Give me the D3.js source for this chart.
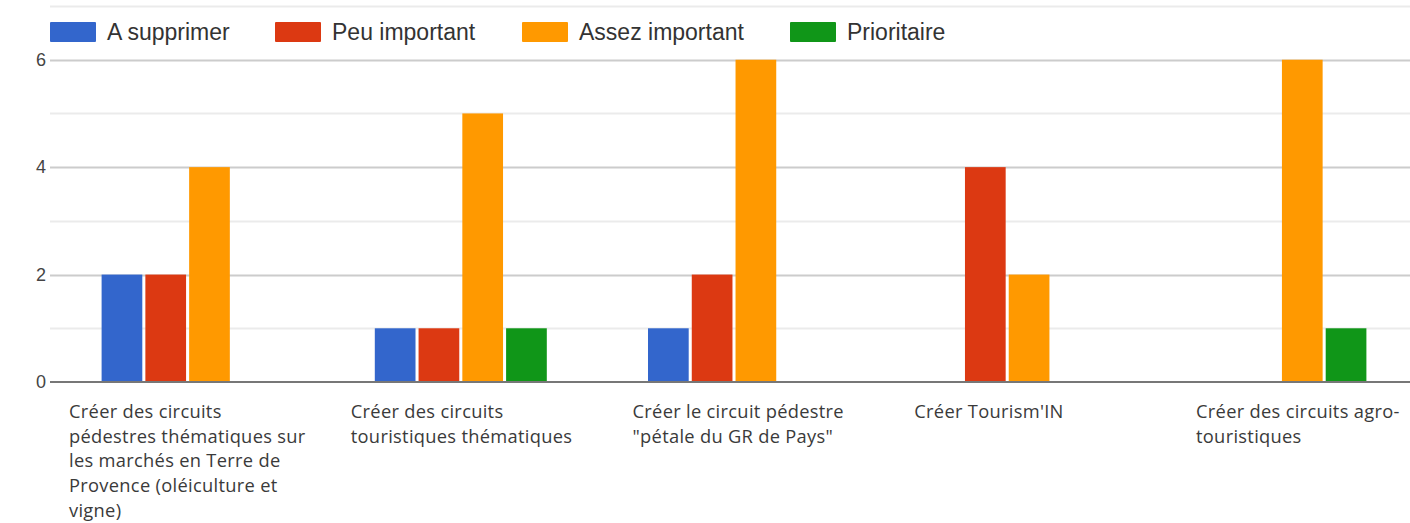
<!DOCTYPE html>
<html>
<head>
<meta charset="utf-8">
<script src="https://cdn.jsdelivr.net/npm/d3@7"></script>
<style>
  body { margin: 0; background: #fff; }
  svg { display: block; }
</style>
</head>
<body>
<div id="chart"></div>
<script>
// Data
var categories = ["c1", "c2", "c3", "c4", "c5"];
var categoryLabels = [
  ["Créer des circuits", "pédestres thématiques sur", "les marchés en Terre de", "Provence (oléiculture et", "vigne)"],
  ["Créer des circuits", "touristiques thématiques"],
  ["Créer le circuit pédestre", "\"pétale du GR de Pays\""],
  ["Créer Tourism'IN"],
  ["Créer des circuits agro-", "touristiques"]
];
var seriesNames = ["A supprimer", "Peu important", "Assez important", "Prioritaire"];
var seriesColors = ["#3366cc", "#dc3912", "#ff9900", "#109618"];
var aSupprimer = [2, 1, 1, 0, 0];
var peuImportant = [2, 1, 2, 4, 0];
var assezImportant = [4, 5, 6, 2, 6];
var prioritaire = [0, 1, 0, 0, 1];
var yTicks = [0, 2, 4, 6];

var seriesValues = [aSupprimer, peuImportant, assezImportant, prioritaire];

var svgWidth = 1410;
var svgHeight = 523;

var svg = d3.select("#chart")
  .append("svg")
  .attr("width", svgWidth)
  .attr("height", svgHeight);

var x = d3.scaleBand()
  .domain(categories)
  .range([51, 1417])
  .paddingInner(0)
  .paddingOuter(0);

var inner = d3.scaleBand()
  .domain(seriesNames)
  .range([0, 172])
  .paddingInner(0.07);

var y = d3.scaleLinear()
  .domain([0, 7])
  .range([382, 6]);

// labels under the groups sit on their own spacing in the picture
var labelX = d3.scalePoint()
  .domain(categories)
  .range([69, 1196]);

// gridlines
svg.append("g")
  .selectAll("line")
  .data(d3.range(1, 8))
  .enter()
  .append("line")
  .attr("x1", 50)
  .attr("x2", svgWidth)
  .attr("y1", d => Math.round(y(d)) + 0.5)
  .attr("y2", d => Math.round(y(d)) + 0.5)
  .attr("stroke", d => d % 2 === 0 ? "#cccccc" : "#ebebeb")
  .attr("stroke-width", 2);

// y labels
svg.append("g")
  .selectAll("text")
  .data(yTicks)
  .enter()
  .append("text")
  .attr("x", 46)
  .attr("y", d => y(d))
  .attr("dy", "0.35em")
  .attr("text-anchor", "end")
  .attr("font-family", "Liberation Sans, Arial, sans-serif")
  .attr("font-size", 18)
  .attr("fill", "#444")
  .text(d => d);

// bars
var rows = [];
categories.forEach(function(c, i) {
  seriesNames.forEach(function(s, j) {
    rows.push({cat: c, series: s, value: seriesValues[j][i], color: seriesColors[j]});
  });
});

var groupOffset = (x.bandwidth() - 172) / 2;

svg.append("g")
  .selectAll("rect")
  .data(rows.filter(d => d.value > 0))
  .enter()
  .append("rect")
  .attr("x", d => x(d.cat) + groupOffset + inner(d.series))
  .attr("y", d => y(d.value))
  .attr("width", inner.bandwidth())
  .attr("height", d => y(0) - y(d.value))
  .attr("fill", d => d.color);

// baseline
svg.append("line")
  .attr("x1", 50)
  .attr("x2", svgWidth)
  .attr("y1", y(0))
  .attr("y2", y(0))
  .attr("stroke", "#777")
  .attr("stroke-width", 2);

// category labels
var labels = svg.append("g")
  .selectAll("text")
  .data(categories)
  .enter()
  .append("text")
  .attr("x", d => labelX(d))
  .attr("y", 418)
  .attr("font-family", "Open Sans, sans-serif")
  .attr("font-size", 18.3)
  .attr("letter-spacing", "0.3px")
  .attr("fill", "#3a3a3a");

labels.each(function(d, i) {
  var t = d3.select(this);
  categoryLabels[i].forEach(function(line, k) {
    t.append("tspan")
      .attr("x", labelX(d))
      .attr("dy", k === 0 ? 0 : 24.7)
      .text(line);
  });
});

// legend
var legendX = [50, 275, 522, 790];
var legend = svg.append("g")
  .selectAll("g")
  .data(seriesNames)
  .enter()
  .append("g")
  .attr("transform", (d, i) => `translate(${legendX[i]}, 22)`);

legend.append("rect")
  .attr("width", 46)
  .attr("height", 20)
  .attr("rx", 1)
  .attr("fill", (d, i) => seriesColors[i]);

legend.append("text")
  .attr("x", 57)
  .attr("y", 10)
  .attr("dy", "0.35em")
  .attr("font-family", "Liberation Sans, Arial, sans-serif")
  .attr("font-size", 23)
  .attr("fill", "#333")
  .text(d => d);
</script>
</body>
</html>
